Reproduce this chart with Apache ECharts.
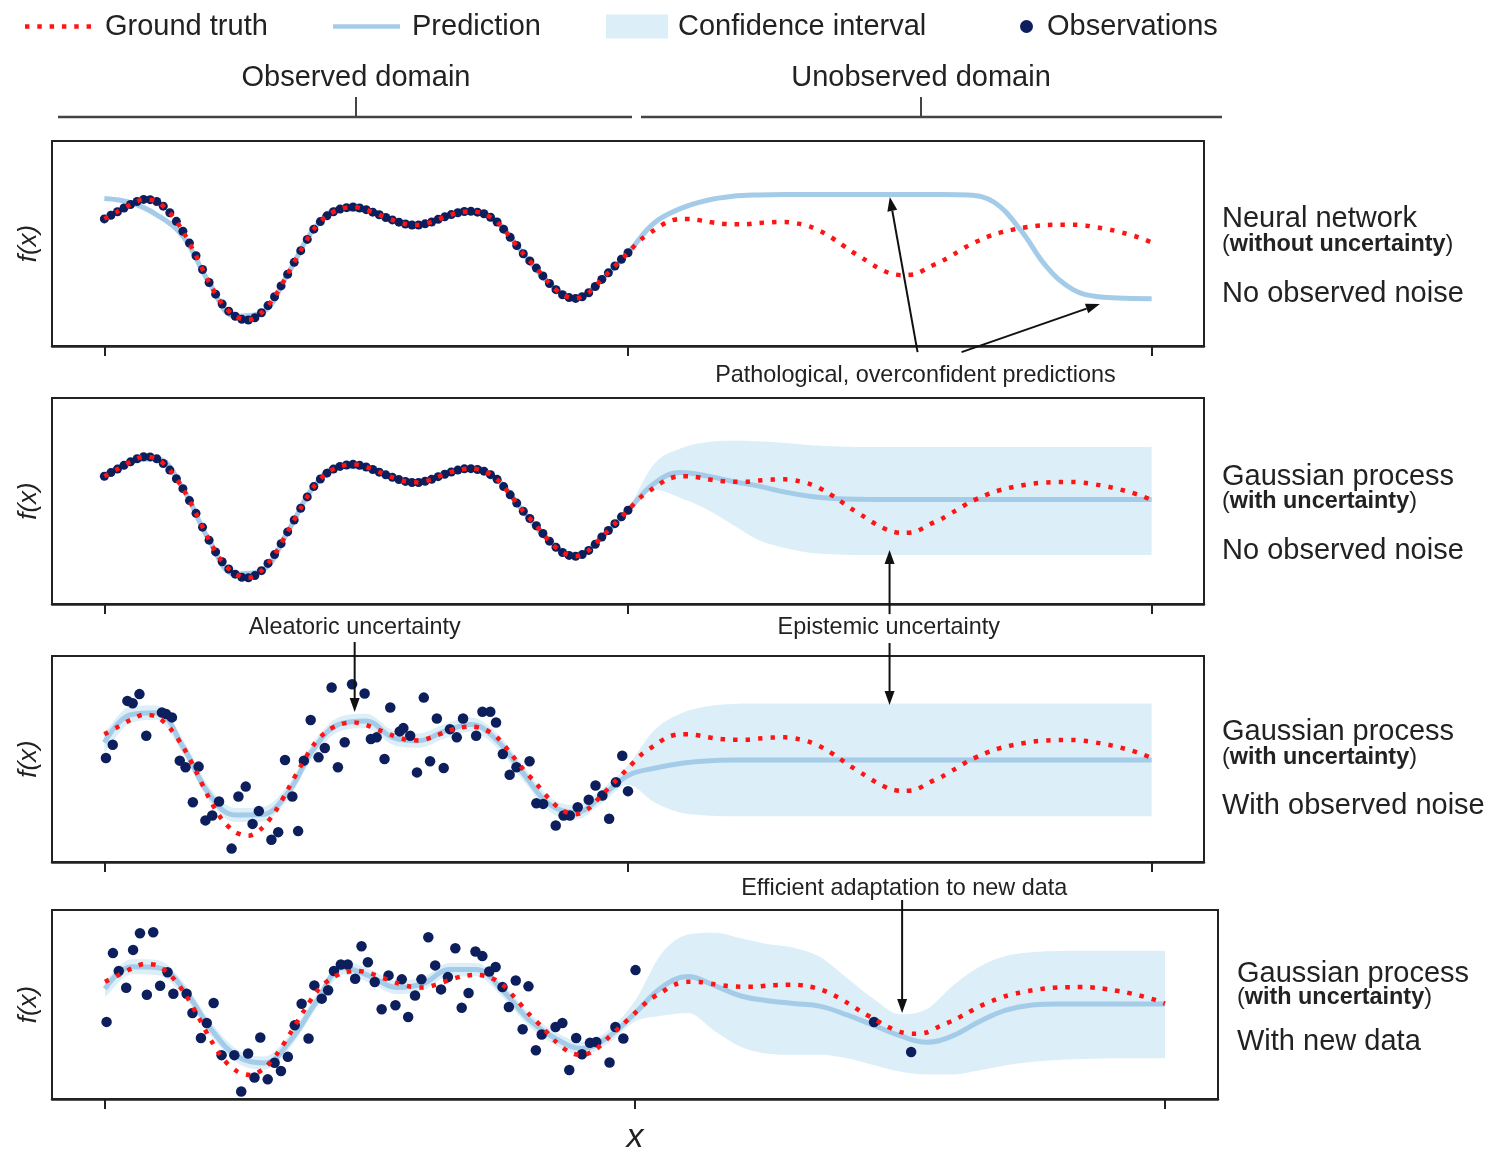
<!DOCTYPE html>
<html><head><meta charset="utf-8">
<script src="https://cdn.jsdelivr.net/npm/echarts@6/dist/echarts.min.js"></script>
<style>html,body{margin:0;padding:0;background:#fff}#c{width:1493px;height:1149px}</style>
</head><body><div id="c"></div>
<script>
// ---------- DATA (y values are fractions of each panel's height) ----------
const xTicks = [0, 1, 2];
// ground truth sampled every 0.025 on x in [0, 2]
const groundTruth = [
  0.62,0.655,0.69,0.715,0.705,0.65,0.56,0.44,0.31,0.205,
  0.145,0.127,0.162,0.24,0.35,0.465,0.57,0.635,0.668,0.678,
  0.665,0.64,0.615,0.595,0.59,0.605,0.63,0.65,0.657,0.645,
  0.605,0.53,0.45,0.38,0.305,0.25,0.232,0.26,0.325,0.39,
  0.455,
  0.52,0.565,0.605,0.62,0.618,0.607,0.598,0.594,0.594,0.6,
  0.604,0.605,0.597,0.58,0.55,0.51,0.465,0.425,0.385,0.355,
  0.345,0.352,0.385,0.415,0.452,0.49,0.52,0.545,0.562,0.575,
  0.585,0.59,0.592,0.592,0.587,0.577,0.565,0.549,0.53,0.505
];
// noise-free observations, every 0.0125 on x in [0, 1]
const obsClean = [
  0.62,0.638,0.655,0.673,0.69,0.705,0.715,0.714,0.705,0.682,
  0.65,0.608,0.56,0.502,0.44,0.373,0.31,0.253,0.205,0.17,
  0.145,0.13,0.127,0.138,0.162,0.197,0.24,0.293,0.35,0.408,
  0.465,0.52,0.57,0.607,0.635,0.655,0.668,0.675,0.678,0.673,
  0.665,0.653,0.64,0.627,0.615,0.604,0.595,0.59,0.59,0.596,
  0.605,0.618,0.63,0.641,0.65,0.656,0.657,0.653,0.645,0.628,
  0.605,0.57,0.53,0.49,0.45,0.415,0.38,0.342,0.305,0.275,
  0.25,0.236,0.232,0.24,0.26,0.29,0.325,0.357,0.39,0.423,
  0.455
];
// predictions sampled every 0.05 on x in [0, 2]
const predNN = [
  0.72,0.70,0.64,0.535,0.31,0.145,0.162,0.35,0.57,0.668,
  0.665,0.615,0.59,0.63,0.657,0.605,0.45,0.305,0.232,0.325,
  0.455,
  0.60,0.67,0.71,0.73,0.737,0.739,0.739,0.739,0.739,0.739,
  0.739,0.739,0.736,0.70,0.565,0.385,0.275,0.24,0.233,0.231
];
const predGP = [
  0.62,0.69,0.705,0.56,0.31,0.145,0.162,0.35,0.57,0.668,
  0.665,0.615,0.59,0.63,0.657,0.605,0.45,0.305,0.232,0.325,
  0.455,
  0.585,0.638,0.622,0.595,0.572,0.543,0.522,0.511,0.508,0.507,
  0.507,0.507,0.507,0.507,0.507,0.507,0.507,0.507,0.507,0.507
];
// GP (noise-free) interval, every 0.05 on x in [1, 2]
const ciGPUpper = [0.455,0.68,0.755,0.785,0.793,0.79,0.782,0.771,0.765,0.762,0.762,0.762,0.762,0.762,0.762,0.762,0.762,0.762,0.762,0.762,0.762];
const ciGPLower = [0.455,0.555,0.515,0.46,0.385,0.31,0.272,0.248,0.24,0.238,0.238,0.238,0.238,0.238,0.238,0.238,0.238,0.238,0.238,0.238,0.238];
const predNoisy = [
  0.58,0.715,0.725,0.56,0.33,0.228,0.23,0.335,0.55,0.67,
  0.685,0.605,0.589,0.635,0.667,0.59,0.43,0.28,0.24,0.32,
  0.42,
  0.455,0.478,0.49,0.495,0.495,0.495,0.495,0.495,0.495,0.495,
  0.495,0.495,0.495,0.495,0.495,0.495,0.495,0.495,0.495,0.495
];
const ciNoisyUpper = [
  0.63,0.755,0.76,0.595,0.365,0.262,0.265,0.37,0.585,0.705,
  0.72,0.64,0.624,0.67,0.702,0.625,0.465,0.315,0.275,0.355,
  0.47,
  0.64,0.72,0.755,0.767,0.77,0.77,0.77,0.77,0.77,0.77,
  0.77,0.77,0.77,0.77,0.77,0.77,0.77,0.77,0.77,0.77
];
const ciNoisyLower = [
  0.53,0.675,0.69,0.525,0.295,0.194,0.195,0.3,0.515,0.635,
  0.65,0.57,0.554,0.6,0.632,0.555,0.395,0.245,0.205,0.285,
  0.375,
  0.29,0.24,0.226,0.222,0.222,0.222,0.222,0.222,0.222,0.222,
  0.222,0.222,0.222,0.222,0.222,0.222,0.222,0.222,0.222,0.222
];
const predNew = [
  0.583,0.70,0.695,0.575,0.37,0.225,0.19,0.31,0.52,0.695,
  0.65,0.59,0.61,0.685,0.685,0.575,0.42,0.32,0.267,0.33,
  0.454,
  0.59,0.648,0.60,0.545,0.52,0.505,0.49,0.445,0.39,0.335,
  0.30,0.335,0.41,0.47,0.497,0.502,0.502,0.502,0.502,0.502
];
const ciNewUpper = [
  0.625,0.74,0.735,0.61,0.405,0.26,0.225,0.345,0.555,0.73,
  0.685,0.625,0.645,0.72,0.72,0.61,0.455,0.355,0.302,0.365,
  0.52,
  0.77,0.87,0.88,0.85,0.82,0.80,0.75,0.64,0.53,0.448,
  0.475,0.60,0.70,0.757,0.777,0.783,0.785,0.785,0.785,0.785
];
const ciNewLower = [
  0.54,0.66,0.655,0.54,0.335,0.19,0.155,0.275,0.485,0.66,
  0.615,0.555,0.575,0.65,0.65,0.54,0.385,0.285,0.232,0.295,
  0.41,
  0.44,0.455,0.36,0.275,0.24,0.234,0.234,0.215,0.18,0.145,
  0.13,0.13,0.152,0.178,0.197,0.207,0.212,0.215,0.215,0.215
];
// noisy observations [x, y]
const obsNoisy = [
  [0.003,0.505],[0.016,0.569],[0.044,0.782],[0.054,0.771],[0.067,0.815],[0.080,0.613],[0.110,0.726],[0.118,0.718],
  [0.129,0.702],[0.144,0.492],[0.155,0.460],[0.169,0.290],[0.180,0.463],[0.193,0.202],[0.206,0.226],[0.219,0.294],
  [0.243,0.065],[0.256,0.318],[0.270,0.366],[0.283,0.185],[0.295,0.247],[0.319,0.108],[0.332,0.145],[0.345,0.495],
  [0.359,0.318],[0.370,0.150],[0.381,0.492],[0.394,0.689],[0.409,0.508],[0.421,0.553],[0.434,0.847],[0.446,0.460],
  [0.459,0.581],[0.473,0.863],[0.497,0.818],[0.509,0.597],[0.520,0.605],[0.535,0.500],[0.546,0.750],[0.564,0.634],
  [0.571,0.650],[0.584,0.613],[0.597,0.435],[0.610,0.798],[0.622,0.489],[0.635,0.697],[0.648,0.456],[0.660,0.645],
  [0.673,0.605],[0.685,0.697],[0.710,0.613],[0.722,0.729],[0.737,0.729],[0.748,0.677],[0.761,0.524],[0.774,0.423],
  [0.787,0.460],[0.812,0.489],[0.825,0.285],[0.838,0.282],[0.862,0.177],[0.877,0.226],[0.889,0.226],[0.904,0.266],
  [0.925,0.302],[0.938,0.371],[0.951,0.323],[0.964,0.210],[0.977,0.387],[0.989,0.516],[1.000,0.344]
];
const obsNew = [
  [0.003,0.408],[0.015,0.772],[0.026,0.677],[0.040,0.589],[0.053,0.789],[0.066,0.877],[0.079,0.552],[0.091,0.882],
  [0.104,0.599],[0.118,0.671],[0.129,0.557],[0.154,0.557],[0.165,0.455],[0.181,0.323],[0.192,0.402],[0.205,0.508],
  [0.220,0.232],[0.244,0.232],[0.257,0.040],[0.270,0.241],[0.282,0.114],[0.293,0.325],[0.307,0.104],[0.320,0.192],
  [0.332,0.148],[0.345,0.223],[0.358,0.390],[0.371,0.504],[0.384,0.320],[0.395,0.601],[0.409,0.531],[0.421,0.575],
  [0.432,0.677],[0.445,0.712],[0.458,0.712],[0.472,0.636],[0.484,0.808],[0.496,0.724],[0.509,0.619],[0.522,0.475],
  [0.535,0.654],[0.548,0.496],[0.560,0.633],[0.572,0.434],[0.585,0.548],[0.597,0.633],[0.610,0.856],[0.623,0.707],
  [0.634,0.580],[0.647,0.645],[0.661,0.798],[0.673,0.483],[0.686,0.561],[0.699,0.780],[0.712,0.756],[0.725,0.675],
  [0.737,0.698],[0.750,0.592],[0.762,0.487],[0.775,0.627],[0.788,0.369],[0.799,0.596],[0.813,0.258],[0.824,0.341],
  [0.850,0.381],[0.863,0.402],[0.876,0.153],[0.889,0.323],[0.900,0.237],[0.915,0.297],[0.927,0.302],[0.952,0.193],
  [0.963,0.381],[0.978,0.320],[1.001,0.682],[1.451,0.407],[1.521,0.249]
];

// ---------- STYLE ----------
const FONT = '"Liberation Sans", Arial, Helvetica, sans-serif';
const INK = '#222';
const RED = '#ff1414', BLUE = '#a4cce8', BAND = '#dceff8', NAVY = '#0c1f5c';

const grids = [
  {left:52, top:141, width:1152, height:205},
  {left:52, top:398, width:1152, height:206},
  {left:52, top:656, width:1152, height:206},
  {left:52, top:910, width:1166, height:189}
];

function xy(vals, x0, step) { return vals.map((v, i) => [Math.round((x0 + i * step) * 10000) / 10000, v]); }

// monotone cubic (in pixel x) densification, used only to draw a smooth band outline
function smoothPts(pts) {
  const n = pts.length, d = [], m = [];
  for (let i = 0; i < n - 1; i++) { const h = pts[i + 1][0] - pts[i][0]; d.push(h === 0 ? 0 : (pts[i + 1][1] - pts[i][1]) / h); }
  m[0] = d[0]; m[n - 1] = d[n - 2];
  for (let i = 1; i < n - 1; i++) m[i] = (d[i - 1] * d[i] <= 0) ? 0 : (d[i - 1] + d[i]) / 2;
  for (let i = 0; i < n - 1; i++) {
    if (d[i] === 0) { m[i] = 0; m[i + 1] = 0; continue; }
    const a = m[i] / d[i], b = m[i + 1] / d[i], s = a * a + b * b;
    if (s > 9) { const t = 3 / Math.sqrt(s); m[i] = t * a * d[i]; m[i + 1] = t * b * d[i]; }
  }
  const out = [pts[0]];
  for (let i = 0; i < n - 1; i++) {
    const [x0, y0] = pts[i], [x1, y1] = pts[i + 1], h = x1 - x0;
    for (let s = 1; s <= 8; s++) {
      const t = s / 8, t2 = t * t, t3 = t2 * t;
      const y = (2 * t3 - 3 * t2 + 1) * y0 + (t3 - 2 * t2 + t) * h * m[i] + (-2 * t3 + 3 * t2) * y1 + (t3 - t2) * h * m[i + 1];
      out.push([x0 + h * t, y]);
    }
  }
  return out;
}

function bandSeries(k, upper, lower, x0, step) {
  const data = upper.map((u, i) => [Math.round((x0 + i * step) * 10000) / 10000, lower[i], u]);
  return {
    type:'custom', name:'Confidence interval', xAxisIndex:k, yAxisIndex:k, data:data,
    encode:{x:0, y:[1, 2]}, itemStyle:{color:BAND}, silent:true, z:1, clip:true,
    renderItem: function (params, api) {
      if (params.dataIndex !== 0) return null;
      const up = smoothPts(data.map(d => api.coord([d[0], d[2]])));
      const lo = smoothPts(data.map(d => api.coord([d[0], d[1]]))).reverse();
      return {type:'polygon', shape:{points:up.concat(lo)}, style:{fill:BAND}};
    }
  };
}
function predSeries(k, vals) {
  return {type:'line', name:'Prediction', xAxisIndex:k, yAxisIndex:k, data:xy(vals, 0, 0.05), symbol:'none',
    smooth:0.4, lineStyle:{color:BLUE, width:5}, itemStyle:{color:BLUE}, silent:true, z:2};
}
function obsSeries(k, data, size) {
  return {type:'scatter', name:'Observations', xAxisIndex:k, yAxisIndex:k, data:data, symbolSize:size,
    itemStyle:{color:NAVY, opacity:1}, silent:true, z:3};
}
function gtSeries(k) {
  return {type:'line', name:'Ground truth', xAxisIndex:k, yAxisIndex:k, data:xy(groundTruth, 0, 0.025), symbol:'none',
    smooth:0.3, lineStyle:{color:RED, width:4.5, type:[4.5, 8], cap:'butt'}, itemStyle:{color:RED}, silent:true, z:4};
}

const cleanObs = xy(obsClean, 0, 0.0125);
const series = [
  predSeries(0, predNN), obsSeries(0, cleanObs, 9), gtSeries(0),
  bandSeries(1, ciGPUpper, ciGPLower, 1, 0.05), predSeries(1, predGP), obsSeries(1, cleanObs, 9), gtSeries(1),
  bandSeries(2, ciNoisyUpper, ciNoisyLower, 0, 0.05), predSeries(2, predNoisy), obsSeries(2, obsNoisy, 10.5), gtSeries(2),
  bandSeries(3, ciNewUpper, ciNewLower, 0, 0.05), predSeries(3, predNew), obsSeries(3, obsNew, 10.5), gtSeries(3)
];

const legendText = (pad) => ({fontSize:29, color:INK, fontFamily:FONT, padding:[0, 0, 0, pad]});
const legendBase = {top:12, padding:0, selectedMode:false, itemStyle:{opacity:1, borderWidth:0}};
const dotPath = 'path://M0 0h4.5v4.5h-4.5zM12.5 0h4.5v4.5h-4.5zM25 0h4.5v4.5h-4.5zM37.5 0h4.5v4.5h-4.5zM50 0h4.5v4.5h-4.5zM62.5 0h4.5v4.5h-4.5z';

const option = {
  animation:false,
  backgroundColor:'#fff',
  grid: grids.map(g => Object.assign({show:true, borderColor:INK, borderWidth:2, containLabel:false, outerBoundsMode:'none'}, g)),
  xAxis: grids.map((g, k) => ({
    gridIndex:k, type:'value', min:-0.1, max:2.1,
    axisLine:{show:true, onZero:false, lineStyle:{color:INK, width:2.5}},
    axisTick:{show:true, customValues:xTicks, length:10, lineStyle:{color:INK, width:2}},
    axisLabel:{show:false}, splitLine:{show:false},
    name: k === 3 ? 'x' : '', nameLocation:'middle', nameGap:22,
    nameTextStyle:{fontStyle:'italic', fontSize:34, color:INK, fontFamily:FONT}
  })),
  yAxis: grids.map((g, k) => ({
    gridIndex:k, type:'value', min:0, max:1,
    axisLine:{show:false}, axisTick:{show:false}, axisLabel:{show:false}, splitLine:{show:false},
    name:'f(x)', nameLocation:'middle', nameGap:10,
    nameTextStyle:{fontStyle:'italic', fontSize:26, color:INK, fontFamily:FONT}
  })),
  legend: [
    Object.assign({}, legendBase, {left:25, data:[{name:'Ground truth', icon:dotPath}], itemWidth:66, itemHeight:4.5, textStyle:legendText(9)}),
    Object.assign({}, legendBase, {left:333, data:[{name:'Prediction', icon:'rect'}], itemWidth:67, itemHeight:4.5, textStyle:legendText(7)}),
    Object.assign({}, legendBase, {left:606, data:[{name:'Confidence interval', icon:'rect'}], itemWidth:62, itemHeight:24, textStyle:legendText(5)}),
    Object.assign({}, legendBase, {left:1020, data:[{name:'Observations', icon:'circle'}], itemWidth:13, itemHeight:13, textStyle:legendText(9)})
  ],
  series: series
};

const chart = echarts.init(document.getElementById('c'));
chart.setOption(option);

// ---------- ANNOTATIONS ----------
const annotTexts = [
  {text:'Pathological, overconfident predictions', grid:0, at:[1.549, -0.142]},
  {text:'Aleatoric uncertainty', grid:2, at:[0.478, 1.136]},
  {text:'Epistemic uncertainty', grid:2, at:[1.498, 1.136]},
  {text:'Efficient adaptation to new data', grid:3, at:[1.508, 1.111]}
];
const annotArrows = [
  {grid:0, from:[1.553, -0.03], to:[1.5, 0.727]},
  {grid:0, from:[1.637, -0.03], to:[1.901, 0.205]},
  {grid:2, from:[0.478, 1.068], to:[0.478, 0.728]},
  {grid:1, from:[1.4995, -0.049], to:[1.4995, 0.262]},
  {grid:2, from:[1.4995, 1.063], to:[1.4995, 0.762]},
  {grid:3, from:[1.504, 1.053], to:[1.504, 0.455]}
];
const sideLabels = [
  {x:1222, y:[219, 245, 294], title:'Neural network', sub:'without uncertainty', note:'No observed noise'},
  {x:1222, y:[477, 502, 551], title:'Gaussian process', sub:'with uncertainty', note:'No observed noise'},
  {x:1222, y:[732, 758, 806], title:'Gaussian process', sub:'with uncertainty', note:'With observed noise'},
  {x:1237, y:[974, 998, 1042], title:'Gaussian process', sub:'with uncertainty', note:'With new data'}
];

const px = (g, p) => chart.convertToPixel({gridIndex:g}, p);
const G = [];
function arrow(p0, p1) {
  const dx = p1[0] - p0[0], dy = p1[1] - p0[1], L = Math.hypot(dx, dy), ux = dx / L, uy = dy / L;
  const hl = 14, hw = 5;
  const b = [p1[0] - ux * hl, p1[1] - uy * hl];
  G.push({type:'line', z:100, silent:true, shape:{x1:p0[0], y1:p0[1], x2:b[0], y2:b[1]}, style:{stroke:'#111', lineWidth:2}});
  G.push({type:'polygon', z:100, silent:true, shape:{points:[p1, [b[0] - uy * hw, b[1] + ux * hw], [b[0] + uy * hw, b[1] - ux * hw]]}, style:{fill:'#111'}});
}
annotArrows.forEach(a => arrow(px(a.grid, a.from), px(a.grid, a.to)));
annotTexts.forEach(a => {
  const p = px(a.grid, a.at);
  G.push({type:'text', z:100, silent:true, x:p[0], y:p[1], style:{text:a.text, fontSize:23.4, fontFamily:FONT, fill:INK, align:'center', verticalAlign:'middle'}});
});
sideLabels.forEach(s => {
  G.push({type:'text', silent:true, x:s.x, y:s.y[0], style:{text:s.title, fontSize:29, fontFamily:FONT, fill:INK, align:'left', verticalAlign:'middle'}});
  G.push({type:'text', silent:true, x:s.x, y:s.y[1], style:{text:'{p|(}{b|' + s.sub + '}{p|)}', align:'left', verticalAlign:'middle',
    rich:{p:{fontSize:23.4, fontFamily:FONT, fill:INK}, b:{fontSize:23.4, fontFamily:FONT, fontWeight:'bold', fill:INK}}}});
  G.push({type:'text', silent:true, x:s.x, y:s.y[2], style:{text:s.note, fontSize:29, fontFamily:FONT, fill:INK, align:'left', verticalAlign:'middle'}});
});
// domain brackets
[[58, 632, 356, 'Observed domain'], [641, 1222, 921, 'Unobserved domain']].forEach(b => {
  G.push({type:'line', silent:true, shape:{x1:b[0], y1:117, x2:b[1], y2:117}, style:{stroke:'#444', lineWidth:2.5}});
  G.push({type:'line', silent:true, shape:{x1:b[2], y1:117, x2:b[2], y2:97}, style:{stroke:'#444', lineWidth:2}});
  G.push({type:'text', silent:true, x:b[2], y:78, style:{text:b[3], fontSize:29, fontFamily:FONT, fill:INK, align:'center', verticalAlign:'middle'}});
});
chart.setOption({graphic:G});
</script>
</body></html>
